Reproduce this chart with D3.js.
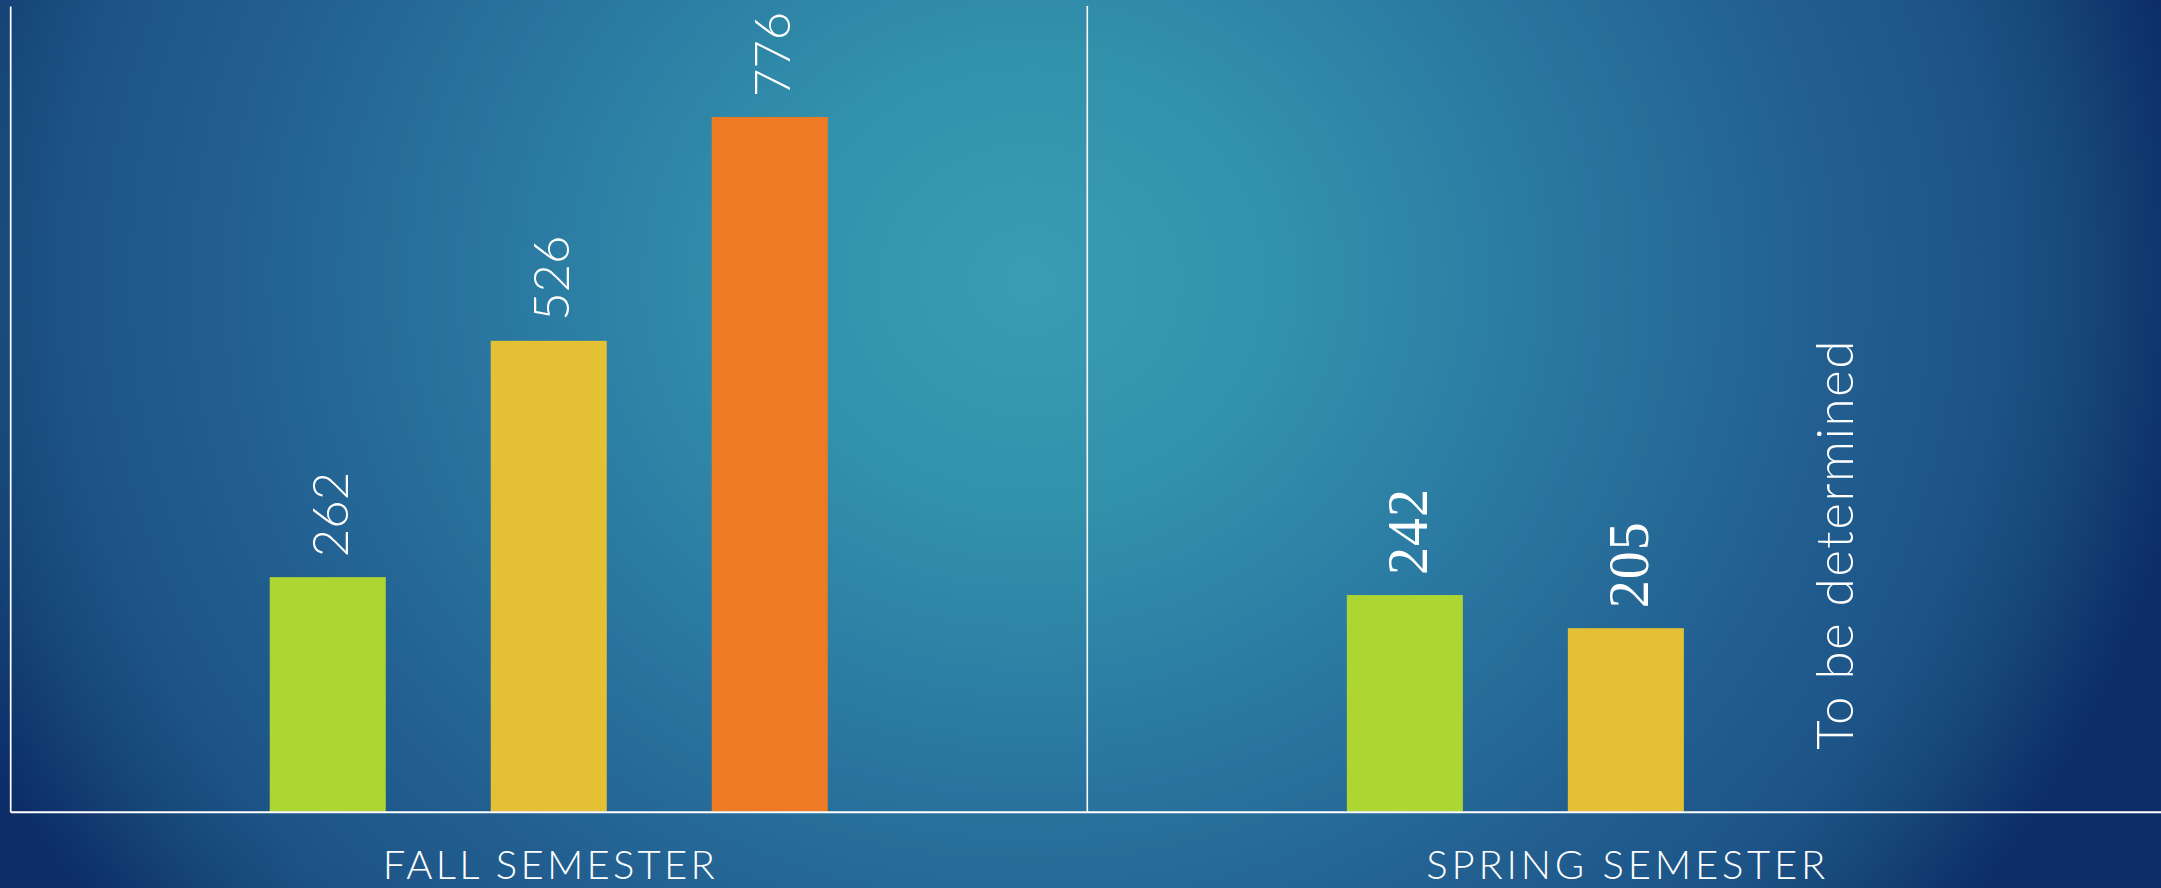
<!DOCTYPE html>
<html>
<head>
<meta charset="utf-8">
<script src="https://cdn.jsdelivr.net/npm/d3@7"></script>
<style>
  html, body { margin: 0; padding: 0; background: #1a4a7e; overflow: hidden; }
  svg { display: block; }
</style>
</head>
<body>
<svg id="chart" width="2161" height="888"></svg>
<script>
// ---- data ----
const categories = ["FALL SEMESTER", "SPRING SEMESTER"];
const seriesNames = ["Series 1", "Series 2", "Series 3"];
const fallValues = [262, 526, 776];
const springValues = [242, 205, null];
const missingLabel = "To be determined";
const seriesColors = ["#add633", "#e4c134", "#ee7b23"];
const yMax = 900;

const W = 2161, H = 888;
const svg = d3.select("#chart");

// background
const defs = svg.append("defs");
const grad = defs.append("radialGradient")
  .attr("id", "bg").attr("gradientUnits", "userSpaceOnUse")
  .attr("cx", 1030).attr("cy", 280).attr("r", 1170)
  .attr("gradientTransform", "translate(1030,280) scale(1,0.9) translate(-1030,-280)");
[[0, "#3a9db3"], [0.22, "#3291ab"], [0.45, "#2a78a2"], [0.68, "#225f90"], [0.82, "#1d5488"], [0.9, "#174779"], [1, "#0c2d68"]]
  .forEach(([o, c]) => grad.append("stop").attr("offset", o).attr("stop-color", c));
svg.append("rect").attr("width", W).attr("height", H).attr("fill", "url(#bg)");

// scales
const left = 10.2, baseY = 811.7, topY = 6;
const bandW = 1077.1;
const x0 = d3.scaleBand().domain(categories).range([left, left + bandW * categories.length]).padding(0);
const x1 = d3.scaleBand().domain(seriesNames).range([0, x0.bandwidth()])
  .paddingInner(0.475).paddingOuter(1.1744);
const y = d3.scaleLinear().domain([0, yMax]).range([baseY, topY]);

const rows = [
  { cat: categories[0], values: fallValues, font: "'Century Gothic', Lato, 'Open Sans', sans-serif", size: 49, weight: 300, ls: 0, off: 20 },
  { cat: categories[1], values: springValues, font: "'Century Schoolbook', 'Liberation Serif', serif", size: 56, weight: 400, ls: 1, off: 22 }
];

const g = svg.append("g");

rows.forEach(row => {
  const data = seriesNames.map((s, i) => ({ s, v: row.values[i], c: seriesColors[i] }));
  const gx = x0(row.cat);
  // bars
  g.selectAll(null).data(data.filter(d => d.v != null)).join("rect")
    .attr("x", d => gx + x1(d.s))
    .attr("y", d => y(d.v))
    .attr("width", x1.bandwidth())
    .attr("height", d => y(0) - y(d.v))
    .attr("fill", d => d.c);
  // value labels
  g.selectAll(null).data(data.filter(d => d.v != null)).join("text")
    .attr("transform", d => `translate(${gx + x1(d.s) + x1.bandwidth() / 2 + row.off},${y(d.v) - 20}) rotate(-90)`)
    .attr("text-anchor", "start")
    .attr("fill", "#fff")
    .style("font-family", row.font)
    .style("font-size", row.size + "px")
    .style("font-weight", row.weight)
    .style("letter-spacing", row.ls + "px")
    .text(d => d.v);
  // missing label
  g.selectAll(null).data(data.filter(d => d.v == null)).join("text")
    .attr("transform", d => `translate(${gx + x1(d.s) + x1.bandwidth() / 2 + 6},${y(0) - 62}) rotate(-90)`)
    .attr("text-anchor", "start")
    .attr("fill", "#fff")
    .style("font-family", "'Century Gothic', Lato, 'Open Sans', sans-serif")
    .style("font-size", "51px")
    .style("font-weight", 300)
    .attr("textLength", 409)
    .attr("lengthAdjust", "spacing")
    .text(missingLabel);
});

// axes
const yAxis = svg.append("g").attr("transform", `translate(${left},0)`)
  .call(d3.axisLeft(y).ticks(0).tickSize(0).tickSizeOuter(0));
yAxis.select(".domain").attr("stroke", "#fff").attr("stroke-width", 1.7);
yAxis.selectAll(".tick").remove();

// divider between categories
svg.append("line")
  .attr("x1", x0(categories[1])).attr("x2", x0(categories[1]))
  .attr("y1", topY).attr("y2", baseY)
  .attr("stroke", "#fff").attr("stroke-width", 1.6);

const xAxis = svg.append("g").attr("transform", `translate(0,${baseY})`)
  .call(d3.axisBottom(x0).tickSize(0).tickSizeOuter(0));
xAxis.select(".domain").attr("stroke", "#fff").attr("stroke-width", 2);
const labelLens = [332, 399];
xAxis.selectAll(".tick text")
  .attr("y", 67.6).attr("dy", 0)
  .attr("fill", "#fff")
  .style("font-family", "'Tw Cen MT', Lato, 'Open Sans', sans-serif")
  .style("font-size", "40px")
  .style("font-weight", 300)
  .attr("textLength", (d, i) => labelLens[i])
  .attr("lengthAdjust", "spacing");
</script>
</body>
</html>
